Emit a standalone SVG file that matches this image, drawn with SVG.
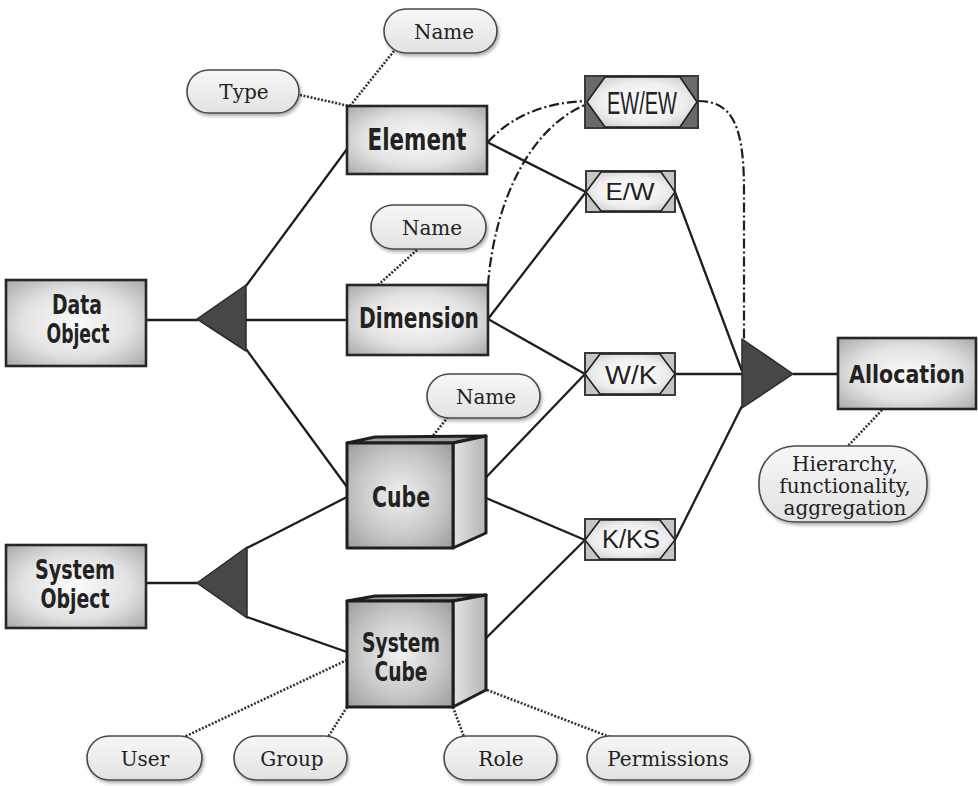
<svg xmlns="http://www.w3.org/2000/svg" width="978" height="786" viewBox="0 0 978 786">
<defs>
  <radialGradient id="boxGrad" cx="50%" cy="50%" r="70%">
    <stop offset="0" stop-color="#fbfbfb"/>
    <stop offset="0.55" stop-color="#e2e2e2"/>
    <stop offset="1" stop-color="#a9a9a9"/>
  </radialGradient>
  <radialGradient id="cubeFront" cx="50%" cy="50%" r="70%">
    <stop offset="0" stop-color="#f2f2f2"/>
    <stop offset="0.6" stop-color="#c4c4c4"/>
    <stop offset="1" stop-color="#9c9c9c"/>
  </radialGradient>
  <linearGradient id="cubeSide" x1="0" y1="0" x2="1" y2="0">
    <stop offset="0" stop-color="#e4e4e4"/>
    <stop offset="1" stop-color="#b4b4b4"/>
  </linearGradient>
  <radialGradient id="hexGrad" cx="50%" cy="50%" r="65%">
    <stop offset="0" stop-color="#ffffff"/>
    <stop offset="0.6" stop-color="#eeeeee"/>
    <stop offset="1" stop-color="#c8c8c8"/>
  </radialGradient>
  <linearGradient id="pillGrad" x1="0" y1="0" x2="0" y2="1">
    <stop offset="0" stop-color="#f7f7f7"/>
    <stop offset="1" stop-color="#e2e2e2"/>
  </linearGradient>
  <filter id="shadow" x="-10%" y="-20%" width="130%" height="150%">
    <feDropShadow dx="1.5" dy="2.5" stdDeviation="1.5" flood-color="#000" flood-opacity="0.3"/>
  </filter>
</defs>
<style>
  .box { fill: url(#boxGrad); stroke: #262626; stroke-width: 2.6; }
  .face { stroke: #1e1e1e; stroke-width: 3; stroke-linejoin: round; }
  .lbl { font-family: "DejaVu Sans Condensed", "DejaVu Sans", sans-serif; font-stretch: condensed; font-weight: bold; fill: #222; text-anchor: middle; }
  .hexo { stroke: #3a3a3a; stroke-width: 2; }
  .hexi { fill: url(#hexGrad); stroke: #1e1e1e; stroke-width: 1.6; stroke-linejoin: miter; }
  .hl { font-family: "Liberation Sans", Arial, sans-serif; fill: #222; text-anchor: middle; }
  .pill { fill: url(#pillGrad); stroke: #4a4a4a; stroke-width: 1.6; filter: url(#shadow); }
  .pt { font-family: "DejaVu Serif", "Liberation Serif", serif; font-size: 20px; fill: #222; text-anchor: middle; }
  .tri { fill: #474747; stroke: #2a2a2a; stroke-width: 1.5; stroke-linejoin: round; }
  .ln { fill: none; stroke: #1e1e1e; stroke-width: 2.3; }
  .dot { fill: none; stroke: #333; stroke-width: 2.6; stroke-dasharray: 2 1.6; }
  .dd { fill: none; stroke: #1e1e1e; stroke-width: 2.2; stroke-dasharray: 10 3 2 3; }
</style>
<rect x="0" y="0" width="978" height="786" fill="#ffffff"/>

<g id="connectors">
  <line class="ln" x1="146" y1="320" x2="198" y2="320"/>
  <line class="ln" x1="246" y1="320" x2="347" y2="320"/>
  <line class="ln" x1="246" y1="286" x2="347" y2="149"/>
  <line class="ln" x1="246" y1="349" x2="347" y2="487"/>
  <line class="ln" x1="146" y1="583" x2="198" y2="583"/>
  <line class="ln" x1="247" y1="548" x2="347" y2="497"/>
  <line class="ln" x1="247" y1="617" x2="347" y2="652"/>
  <line class="ln" x1="487" y1="142" x2="586" y2="192"/>
  <line class="ln" x1="488" y1="319" x2="586" y2="192"/>
  <line class="ln" x1="488" y1="319" x2="585" y2="374"/>
  <line class="ln" x1="472" y1="492" x2="585" y2="374"/>
  <line class="ln" x1="472" y1="492" x2="585" y2="540"/>
  <line class="ln" x1="474" y1="650" x2="585" y2="540"/>
  <line class="ln" x1="675" y1="192" x2="742" y2="371"/>
  <line class="ln" x1="675" y1="374" x2="742" y2="374"/>
  <line class="ln" x1="675" y1="540" x2="742" y2="406"/>
  <line class="ln" x1="793" y1="374" x2="838" y2="374"/>
  <path class="dd" d="M488,142 C512,115 548,102 587,101"/>
  <path class="dd" d="M488,285 C494,205 528,128 587,104"/>
  <path class="dd" d="M698,101 C732,101 744,125 744,190 L744,340"/>
  <line class="dot" x1="300" y1="95" x2="349" y2="106"/>
  <line class="dot" x1="394" y1="51" x2="350" y2="106"/>
  <line class="dot" x1="417" y1="250" x2="377" y2="286"/>
  <line class="dot" x1="448" y1="417" x2="432" y2="437"/>
  <line class="dot" x1="882" y1="410" x2="847" y2="447"/>
  <line class="dot" x1="347" y1="660" x2="184" y2="737"/>
  <line class="dot" x1="347" y1="707" x2="328" y2="737"/>
  <line class="dot" x1="453" y1="707" x2="464" y2="737"/>
  <line class="dot" x1="487" y1="690" x2="610" y2="737"/>
</g>

<g id="tri-data"><polygon class="tri" points="197,319 246,285 246,351"/></g>
<g id="tri-system"><polygon class="tri" points="197,583 247,547 247,618"/></g>
<g id="tri-alloc"><polygon class="tri" points="742,339 793,374 742,408"/></g>

<g id="data-object">
  <rect class="box" x="6" y="280" width="140" height="86"/>
  <text class="lbl" x="77" y="314" font-size="27" textLength="50" lengthAdjust="spacingAndGlyphs">Data</text>
  <text class="lbl" x="78" y="343" font-size="27" textLength="63" lengthAdjust="spacingAndGlyphs">Object</text>
</g>
<g id="system-object">
  <rect class="box" x="6" y="545" width="140" height="83"/>
  <text class="lbl" x="75" y="579" font-size="27" textLength="80" lengthAdjust="spacingAndGlyphs">System</text>
  <text class="lbl" x="75" y="608" font-size="27" textLength="69" lengthAdjust="spacingAndGlyphs">Object</text>
</g>
<g id="element">
  <rect class="box" x="347" y="106" width="140" height="68"/>
  <text class="lbl" x="417" y="150" font-size="30" textLength="99" lengthAdjust="spacingAndGlyphs">Element</text>
</g>
<g id="dimension">
  <rect class="box" x="347" y="285" width="141" height="70"/>
  <text class="lbl" x="419" y="328" font-size="29" textLength="120" lengthAdjust="spacingAndGlyphs">Dimension</text>
</g>
<g id="allocation">
  <rect class="box" x="838" y="338" width="138" height="71"/>
  <text class="lbl" x="907" y="383" font-size="25" textLength="116" lengthAdjust="spacingAndGlyphs">Allocation</text>
</g>

<g id="cube">
  <polygon class="face" fill="#9c9c9c" points="347,443 375,437 486,436 453,443"/>
  <polygon class="face" fill="url(#cubeSide)" points="453,443 486,436 486,533 453,548"/>
  <rect class="face" fill="url(#cubeFront)" x="347" y="443" width="106" height="105"/>
  <text class="lbl" x="401" y="507" font-size="29" textLength="58" lengthAdjust="spacingAndGlyphs">Cube</text>
</g>
<g id="system-cube">
  <polygon class="face" fill="#9c9c9c" points="347,601 375,596 486,595 453,601"/>
  <polygon class="face" fill="url(#cubeSide)" points="453,601 486,595 486,690 453,707"/>
  <rect class="face" fill="url(#cubeFront)" x="347" y="601" width="106" height="106"/>
  <text class="lbl" x="401" y="652" font-size="27" textLength="78" lengthAdjust="spacingAndGlyphs">System</text>
  <text class="lbl" x="401" y="681" font-size="27" textLength="53" lengthAdjust="spacingAndGlyphs">Cube</text>
</g>

<g id="ewew">
  <rect class="hexo" fill="#6a6a6a" x="585" y="76" width="113" height="52"/>
  <polygon class="hexi" points="587,102 605,77 680,77 697,102 680,127 605,127"/>
  <text class="hl" x="642" y="114" font-size="32" textLength="70" lengthAdjust="spacingAndGlyphs">EW/EW</text>
</g>
<g id="ew">
  <rect class="hexo" fill="#c6c6c6" x="586" y="171" width="89" height="41"/>
  <polygon class="hexi" points="586,192 601,172 661,172 675,192 661,211 601,211"/>
  <text class="hl" x="630" y="200" font-size="24" textLength="49" lengthAdjust="spacingAndGlyphs">E/W</text>
</g>
<g id="wk">
  <rect class="hexo" fill="#c6c6c6" x="585" y="353" width="90" height="42"/>
  <polygon class="hexi" points="585,374 600,354 660,354 675,374 660,394 600,394"/>
  <text class="hl" x="631" y="384" font-size="26" textLength="52" lengthAdjust="spacingAndGlyphs">W/K</text>
</g>
<g id="kks">
  <rect class="hexo" fill="#c6c6c6" x="585" y="519" width="90" height="41"/>
  <polygon class="hexi" points="585,540 600,520 660,520 675,540 660,559 600,559"/>
  <text class="hl" x="631" y="548" font-size="25" textLength="58" lengthAdjust="spacingAndGlyphs">K/KS</text>
</g>

<g id="name-element">
  <rect class="pill" x="384" y="9" width="113" height="44" rx="22"/>
  <text class="pt" x="444" y="39">Name</text>
</g>
<g id="type">
  <rect class="pill" x="187" y="70" width="112" height="43" rx="21.5"/>
  <text class="pt" x="244" y="99">Type</text>
</g>
<g id="name-dimension">
  <rect class="pill" x="371" y="205" width="115" height="44" rx="22"/>
  <text class="pt" x="432" y="235">Name</text>
</g>
<g id="name-cube">
  <rect class="pill" x="427" y="374" width="113" height="44" rx="22"/>
  <text class="pt" x="486" y="404">Name</text>
</g>
<g id="hierarchy">
  <rect class="pill" x="759" y="446" width="168" height="76" rx="36"/>
  <text class="pt" font-size="18.5"><tspan x="845" y="471">Hierarchy,</tspan><tspan x="845" y="493">functionality,</tspan><tspan x="845" y="515">aggregation</tspan></text>
</g>
<g id="user">
  <rect class="pill" x="87" y="736" width="115" height="44" rx="22"/>
  <text class="pt" x="145" y="766">User</text>
</g>
<g id="group">
  <rect class="pill" x="234" y="736" width="113" height="44" rx="22"/>
  <text class="pt" x="292" y="766">Group</text>
</g>
<g id="role">
  <rect class="pill" x="444" y="736" width="113" height="44" rx="22"/>
  <text class="pt" x="501" y="766">Role</text>
</g>
<g id="permissions">
  <rect class="pill" x="587" y="736" width="163" height="44" rx="22"/>
  <text class="pt" x="668" y="766">Permissions</text>
</g>
</svg>
